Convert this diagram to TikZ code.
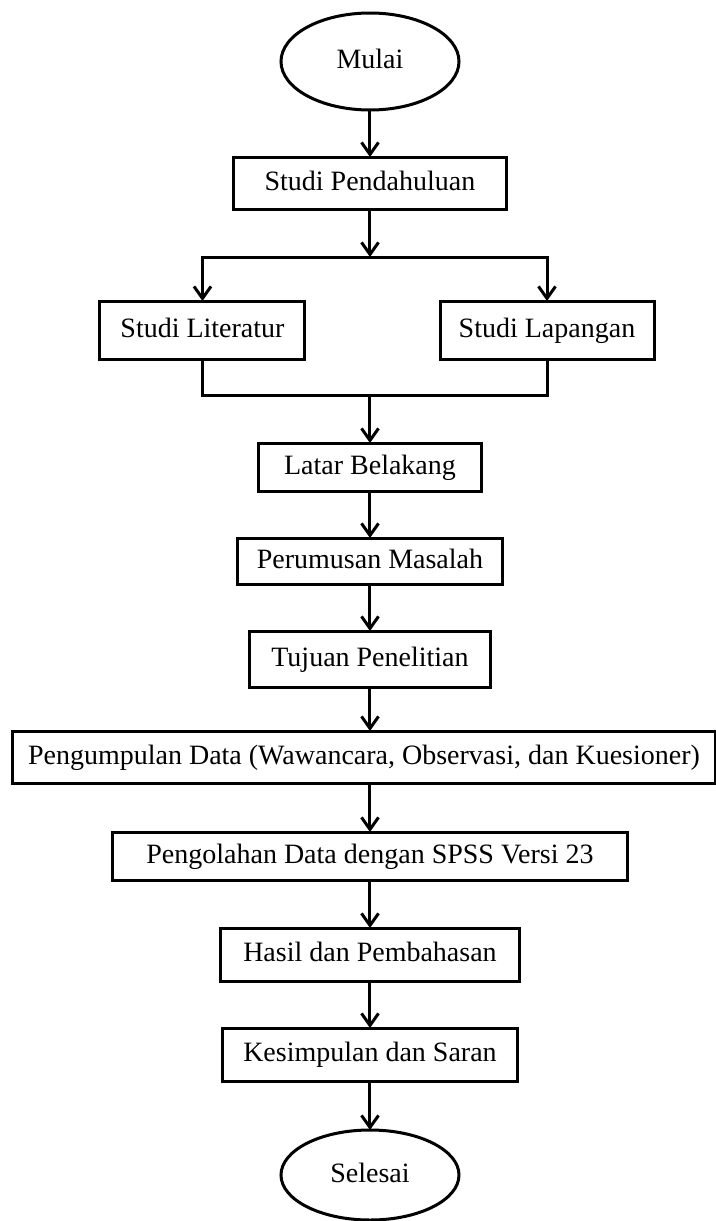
\documentclass[tikz,border=0pt]{standalone}
\usepackage{fontspec}
\setmainfont{Liberation Serif}
\usepackage{tikz}
\usetikzlibrary{arrows.meta, positioning, shapes.geometric, graphs}
\tikzset{
node distance=23.5pt,
>={Straight Barb[length=6pt,width=8.5pt]},
hv path/.style={to path={-| (\tikztotarget)}},
vh path/.style={to path={|- (\tikztotarget)}},
down to/.style={to path={-- (\tikztostart |- \tikztotarget.north)}},
down from/.style={to path={(\tikztotarget |- \tikztostart.south) -- (\tikztotarget)}},
box/.style={%
    rectangle,
    minimum height=25pt,
    inner sep=0pt,
    outer sep=0pt,
    draw=black,
    % Font
    font=\fontsize{14}{16}\selectfont,
    text height=10pt,
    text depth=3pt
},
terminal/.style={%
    box,ellipse,minimum width=89pt,minimum height=48.5pt
},
junction/.style={circle,inner sep=0pt,outer sep=0pt,minimum size=0pt},
}

\begin{document}
\begin{tikzpicture}[line width=1.5pt]
			\useasboundingbox (-185pt,30.75pt) rectangle (173pt,-579.75pt);
			\node[terminal] (mulai) {Mulai};
			\node[box, minimum width=136.5pt, minimum height=26pt, below=of mulai] (pendahuluan) {Studi Pendahuluan};
			\node[junction, below=24pt of pendahuluan] (split) {};
			\node[box, minimum width=102.5pt, minimum height=29pt, below=22pt of split, xshift=-83.75pt] (literatur) {Studi Literatur};
			\node[box, minimum width=107pt, minimum height=29pt, below=22pt of split, xshift=88.5pt] (lapangan) {Studi Lapangan};
			\node[junction, below=69pt of split] (merge) {};
			\node[box, minimum width=111.5pt, minimum height=24pt, below=24pt of merge] (latar) {Latar Belakang};
			\node[box, minimum width=132pt, minimum height=23pt, below=of latar] (rumusan) {Perumusan Masalah};
			\node[box, minimum width=120pt, minimum height=28pt, below=of rumusan] (tujuan) {Tujuan Penelitian};
			\node[box, minimum width=351pt, minimum height=26pt, below=22pt of tujuan, xshift=-3pt] (kumpul) {Pengumpulan Data (Wawancara, Observasi, dan Kuesioner)};
			\node[box, minimum width=257pt, minimum height=24pt, below=24.5pt of kumpul, xshift=3pt] (olah) {Pengolahan Data dengan SPSS Versi 23};
			\node[box, minimum width=149pt, minimum height=26.5pt, below=24pt of olah] (hasil) {Hasil dan Pembahasan};
			\node[box, minimum width=147pt, minimum height=26.5pt, below=of hasil] (simpulan) {Kesimpulan dan Saran};
			\node[terminal, minimum height=45pt, below=24.5pt of simpulan] (selesai) {Selesai};

			\graph [use existing nodes] {
				mulai -> pendahuluan -> split;
				split ->[hv path] literatur;
				split ->[hv path] lapangan;
				literatur --[vh path] merge;
				lapangan --[vh path] merge;
				merge -> latar -> rumusan -> tujuan;
				tujuan ->[down to] kumpul;
				kumpul ->[down from] olah;
				olah -> hasil -> simpulan -> selesai;
			};
		\end{tikzpicture}
\end{document}
